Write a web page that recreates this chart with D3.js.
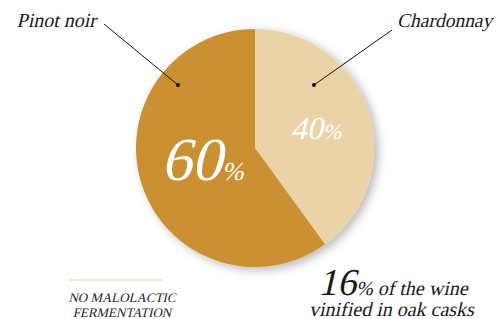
<!DOCTYPE html>
<html>
<head>
<meta charset="utf-8">
<script src="https://cdn.jsdelivr.net/npm/d3@7"></script>
<style>
  html, body { margin: 0; padding: 0; background: #fff; }
  svg { display: block; }
</style>
</head>
<body>
<svg id="chart" width="497" height="319"></svg>
<script>
// Data
const categories = ["Chardonnay", "Pinot noir"];
const values = [40, 60];
const colors = ["#EBD3A8", "#CB9032"];
const percentLabels = ["40", "60"];
const footLeft = ["NO MALOLACTIC", "FERMENTATION"];
const oakValue = "16";
const oakLines = ["% of the wine", "vinified in oak casks"];

// Serif italic faces are not installed: use Liberation Serif with a synthetic slant.
const FONT = "\"Liberation Serif\", \"Times New Roman\", serif";
const SLANT = -13;

const svg = d3.select("#chart");
const cx = 255, cy = 148, R = 119;

const defs = svg.append("defs");
const f = defs.append("filter").attr("id", "shadow")
  .attr("x", "-20%").attr("y", "-20%").attr("width", "140%").attr("height", "140%");
f.append("feDropShadow").attr("dx", 4).attr("dy", 3).attr("stdDeviation", 5)
  .attr("flood-color", "#000").attr("flood-opacity", 0.28);

const pie = d3.pie().sort(null).value(d => d)(values);
const arc = d3.arc().innerRadius(0).outerRadius(R);

const g = svg.append("g").attr("transform", `translate(${cx},${cy})`);
g.append("g").attr("filter", "url(#shadow)")
  .selectAll("path").data(pie).join("path")
  .attr("d", arc)
  .attr("fill", (d, i) => colors[i]);

function txt(parent, x, y) {
  return parent.append("g")
    .attr("transform", `translate(${x},${y}) skewX(${SLANT})`)
    .append("text").attr("x", 0).attr("y", 0)
    .style("font-family", FONT);
}

// Percent labels inside slices
const pctPos = [
  { x: 61, y: -9, big: 32, small: 22 },   // Chardonnay
  { x: -53, y: 32, big: 61, small: 26 }    // Pinot noir
];
pie.forEach((d, i) => {
  const p = pctPos[i];
  const t = txt(g, p.x, p.y)
    .attr("text-anchor", "middle")
    .attr("fill", "#fff");
  t.append("tspan").style("font-size", p.big + "px").text(percentLabels[i]);
  t.append("tspan").style("font-size", p.small + "px").text("%");
});

// Category labels with leader lines
const callouts = [
  { text: categories[0], tx: 397, ty: 27, anchor: "start", x1: 392, y1: 30, x2: 314, y2: 85, size: 19.5 },
  { text: categories[1], tx: 96, ty: 27, anchor: "end", x1: 104, y1: 24, x2: 178, y2: 85, size: 20 }
];
callouts.forEach(c => {
  svg.append("line").attr("x1", c.x1).attr("y1", c.y1).attr("x2", c.x2).attr("y2", c.y2)
    .attr("stroke", "#111").attr("stroke-width", 1);
  svg.append("circle").attr("cx", c.x2).attr("cy", c.y2).attr("r", 2).attr("fill", "#111");
  txt(svg, c.tx, c.ty).attr("text-anchor", c.anchor)
    .style("font-size", c.size + "px").attr("fill", "#1a1a1a").text(c.text);
});

// Bottom-left note
svg.append("line").attr("x1", 70).attr("x2", 162).attr("y1", 280).attr("y2", 280)
  .attr("stroke", "#EBCF9E").attr("stroke-width", 1.2);
footLeft.forEach((s, i) => {
  txt(svg, 122, 302 + i * 14.5)
    .attr("text-anchor", "middle").style("font-size", "13px").attr("fill", "#222").text(s);
});

// Bottom-right note
const t1 = txt(svg, 318, 295).attr("fill", "#1a1a1a");
t1.append("tspan").style("font-size", "38px").text(oakValue);
t1.append("tspan").style("font-size", "20px").text(oakLines[0]);
txt(svg, 309, 316).style("font-size", "20px")
  .attr("fill", "#1a1a1a").text(oakLines[1]);
</script>
</body>
</html>
